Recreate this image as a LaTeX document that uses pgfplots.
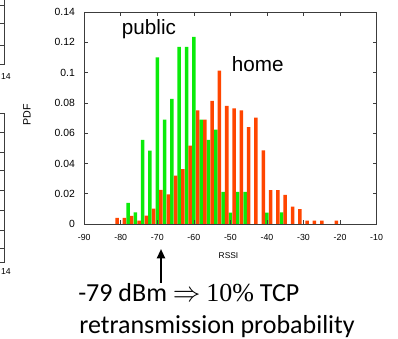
\documentclass[border=0pt]{standalone}
\usepackage{pgfplots}
\pgfplotsset{compat=1.18}
\usetikzlibrary{arrows.meta}
\usepackage{fontspec}
\setmainfont{Liberation Sans}
\newfontfamily\calib{Carlito}
\newfontfamily\tim{Liberation Serif}
\definecolor{gbar}{RGB}{10,235,10}
\definecolor{rbar}{RGB}{255,69,0}
\definecolor{frame}{RGB}{60,60,60}

\pgfplotstableread{
x y
-78 0.0140
-76 0.0077
-74 0.0555
-72 0.0484
-70 0.1100
-68 0.0690
-66 0.0826
-64 0.1169
-62 0.1169
-60 0.1235
-58 0.0690
-56 0.0555
-54 0.0623
-52 0.0212
-50 0.0075
-48 0.0212
-46 0.0212
-40 0.0075
-36 0.0077
}\publictab

\pgfplotstableread{
x y
-81 0.0040
-79 0.0040
-77 0.0053
-75 0.0022
-73 0.0055
-71 0.0101
-69 0.0225
-67 0.0196
-65 0.0319
-63 0.0363
-61 0.0517
-59 0.0750
-57 0.0690
-55 0.0813
-53 0.1012
-51 0.0780
-49 0.0764
-47 0.0750
-45 0.0640
-43 0.0703
-41 0.0487
-39 0.0223
-37 0.0223
-35 0.0192
-33 0.0114
-31 0.0099
-29 0.0023
-27 0.0023
-25 0.0023
-21 0.0023
}\hometab

\begin{document}
\begin{tikzpicture}[x=0.75pt,y=0.75pt]
\path[use as bounding box] (0,0) rectangle (398,338);
% fragments of neighbouring charts at the left edge
\draw[frame, line width=0.5pt] (0,{338-64}) -- (4,{338-64}) -- (4,338);
\foreach \yy in {5,23,45} \draw[frame, line width=0.5pt] (0,{338-\yy}) -- (4,{338-\yy});
\node[font=\fontsize{6.5}{7}\selectfont, inner sep=0] at (6,{338-77}) {14};
\draw[frame, line width=0.5pt] (0,{338-113}) -- (4,{338-113}) -- (4,{338-262}) -- (0,{338-262});
\foreach \yy in {132,152,170,190,210,230,248} \draw[frame, line width=0.5pt] (0,{338-\yy}) -- (4,{338-\yy});
\node[font=\fontsize{6.5}{7}\selectfont, inner sep=0] at (6,{338-272}) {14};

\coordinate (SW) at (84.2,{338-224});
\begin{axis}[at={(SW)}, anchor=south west, scale only axis,
  width=219.3pt, height=159pt,
  xmin=-90, xmax=-10, ymin=0, ymax=0.14,
  xtick={-90,-80,-70,-60,-50,-40,-30,-20,-10},
  xticklabels={-90,-80,-70,-60,-50,-40,-30,-20,-10},
  ytick={0,0.02,0.04,0.06,0.08,0.1,0.12,0.14},
  yticklabels={0,0.02,0.04,0.06,0.08,0.1,0.12,0.14},
  tick align=inside, major tick length=3pt,
  tick style={draw=frame, line width=0.5pt},
  axis line style={draw=frame, line width=0.6pt},
  xticklabel style={font=\fontsize{6.6}{7}\selectfont},
  yticklabel style={font=\fontsize{7.8}{9}\selectfont},
  xticklabel shift=4.6pt, yticklabel shift=3.5pt,
  xlabel={RSSI}, ylabel={PDF},
  xlabel style={font=\fontsize{6.3}{7}\selectfont, at={(axis description cs:0.4935,-0.151)}, anchor=center},
  ylabel style={font=\fontsize{8}{9}\selectfont, at={(axis description cs:-0.1956,0.514)}, anchor=center},
  axis on top,
]
\addplot[ybar, bar width=0.96, bar shift=0, fill=gbar, draw=none] table[x=x,y=y] {\publictab};
\addplot[ybar, bar width=0.96, bar shift=0, fill=rbar, draw=none] table[x=x,y=y] {\hometab};
\end{axis}

\node[anchor=base west, inner sep=0, font=\fontsize{15.5}{17}\selectfont] at (121.7,{338-35}) {public};
\node[anchor=base west, inner sep=0, font=\fontsize{15.5}{17}\selectfont] at (231.7,{338-71.7}) {home};

\draw[line width=1.5pt, -{Triangle[length=7pt,width=6pt]}] (161,{338-283}) -- (161,{338-249});

\node[anchor=base west, inner sep=0, font=\calib\fontsize{19.5}{24}\selectfont] at (78,{338-301.7})
  {-79 dBm {\tim$\Rightarrow$} {\tim 10\%} TCP};
\node[anchor=base west, inner sep=0, font=\calib\fontsize{19.5}{24}\selectfont] at (79,{338-333.3})
  {retransmission probability};
\end{tikzpicture}
\end{document}
